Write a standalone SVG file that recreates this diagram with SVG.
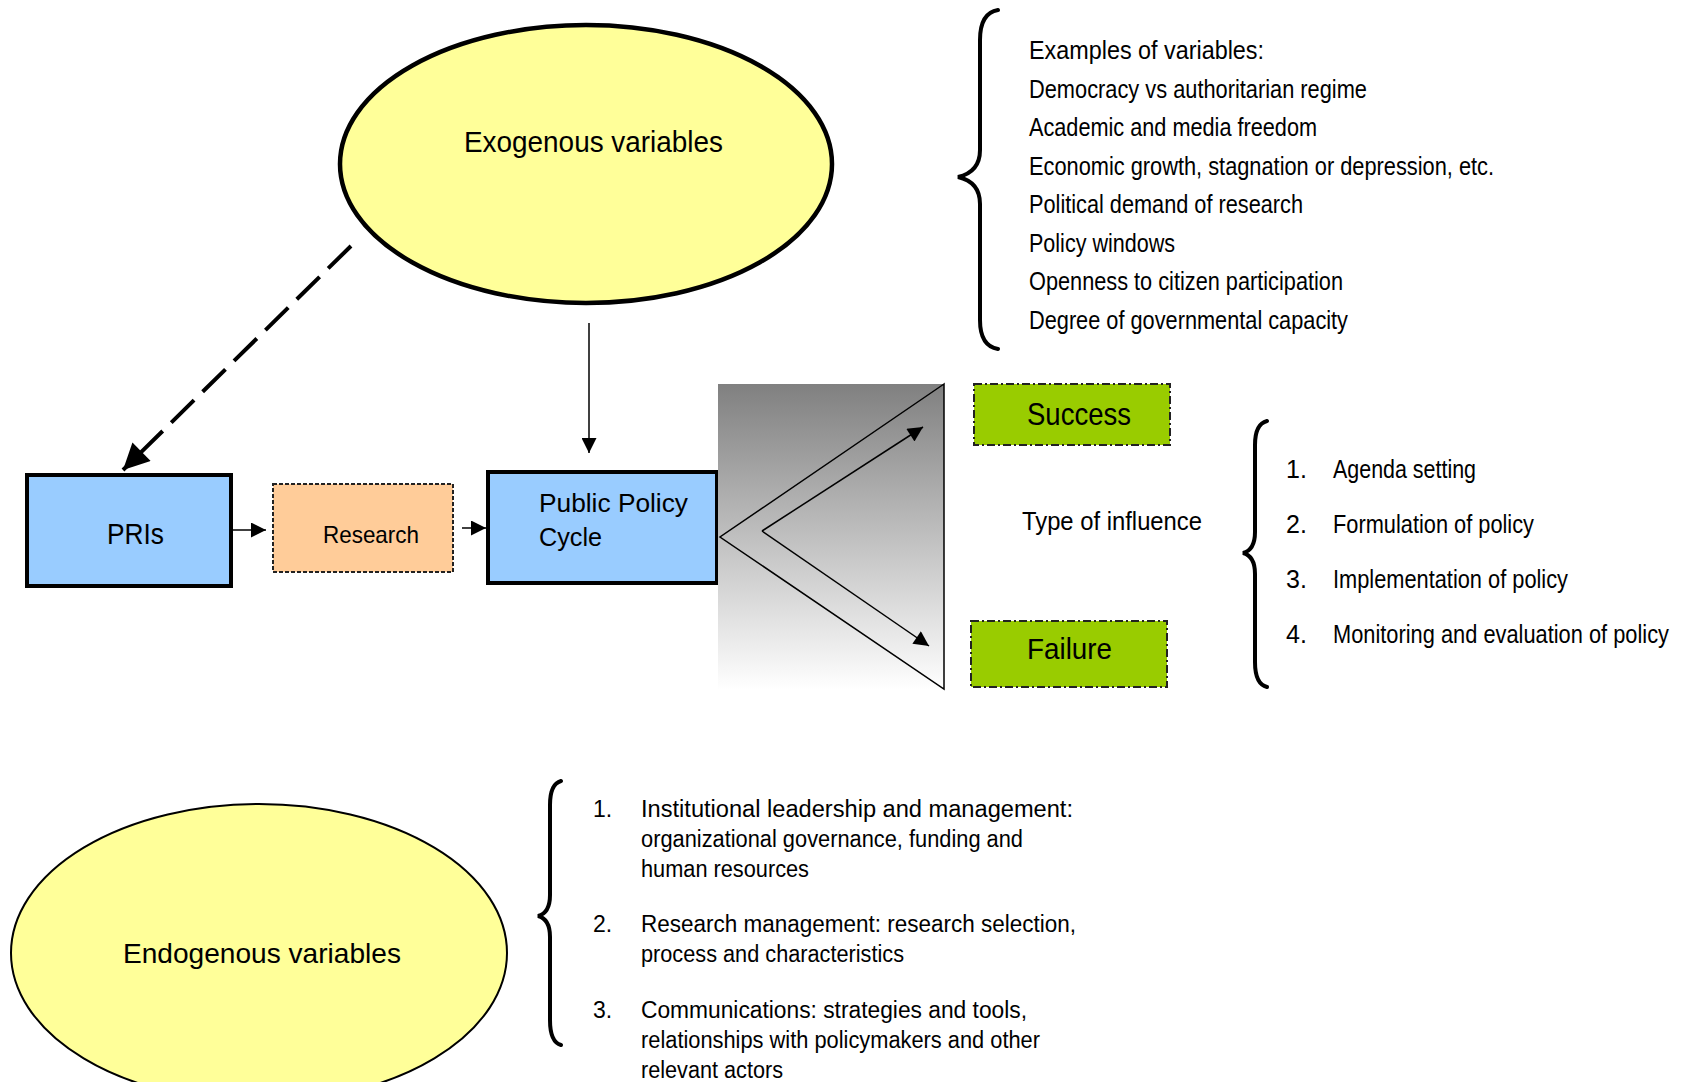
<svg xmlns="http://www.w3.org/2000/svg" width="1686" height="1082" viewBox="0 0 1686 1082">
<defs>
<style>
text{font-family:"Liberation Sans",Arial,sans-serif;fill:#000}
.ex{font-size:25.5px}
.ti{font-size:25px}
.en{font-size:23px}
.ell{fill:#FFFF99;stroke:#000}
.box{fill:#99CCFF;stroke:#000;stroke-width:4}
.grn{fill:#99CC00;stroke:#222;stroke-width:2;stroke-dasharray:8 3 2 3}
.brace{fill:none;stroke:#000;stroke-width:4;stroke-linecap:round}
.thin{fill:none;stroke:#000;stroke-width:1.5}
</style>
<linearGradient id="gr" x1="0" y1="0" x2="0" y2="1">
<stop offset="0" stop-color="#808080"/>
<stop offset="1" stop-color="#ffffff"/>
</linearGradient>
<marker id="ahs" viewBox="0 0 10 10" refX="10" refY="5" markerWidth="15" markerHeight="15" orient="auto" markerUnits="userSpaceOnUse">
<path d="M0,0 L10,5 L0,10 z" fill="#000"/>
</marker>
<marker id="ahm" viewBox="0 0 10 10" refX="10" refY="5" markerWidth="17" markerHeight="15" orient="auto" markerUnits="userSpaceOnUse">
<path d="M0,0 L10,5 L0,10 z" fill="#000"/>
</marker>
<marker id="ahb" viewBox="0 0 10 10" refX="10" refY="5" markerWidth="27" markerHeight="26" orient="auto" markerUnits="userSpaceOnUse">
<path d="M0,0 L10,5 L0,10 z" fill="#000"/>
</marker>
</defs>

<g id="exogenous">
<ellipse class="ell" cx="586" cy="164" rx="246" ry="139" stroke-width="4.5"/>
<text x="464" y="152" font-size="30" textLength="259" lengthAdjust="spacingAndGlyphs">Exogenous variables</text>
</g>

<g id="examples">
<path class="brace" d="M998,10 Q980,13 980,40 L980,150 Q980,172 958,177 Q980,182 980,204 L980,320 Q980,346 998,349"/>
<text class="ex" x="1029" y="59" textLength="235" lengthAdjust="spacingAndGlyphs">Examples of variables:</text>
<text class="ex" x="1029" y="98" textLength="338" lengthAdjust="spacingAndGlyphs">Democracy vs authoritarian regime</text>
<text class="ex" x="1029" y="136" textLength="288" lengthAdjust="spacingAndGlyphs">Academic and media freedom</text>
<text class="ex" x="1029" y="175" textLength="465" lengthAdjust="spacingAndGlyphs">Economic growth, stagnation or depression, etc.</text>
<text class="ex" x="1029" y="213" textLength="274" lengthAdjust="spacingAndGlyphs">Political demand of research</text>
<text class="ex" x="1029" y="252" textLength="146" lengthAdjust="spacingAndGlyphs">Policy windows</text>
<text class="ex" x="1029" y="290" textLength="314" lengthAdjust="spacingAndGlyphs">Openness to citizen participation</text>
<text class="ex" x="1029" y="329" textLength="319" lengthAdjust="spacingAndGlyphs">Degree of governmental capacity</text>
</g>

<g id="pris">
<rect class="box" x="27" y="475" width="204" height="111"/>
<text x="107" y="544" font-size="29" textLength="57" lengthAdjust="spacingAndGlyphs">PRIs</text>
</g>

<g id="research">
<rect x="273" y="484" width="180" height="88" fill="#FFCC99" stroke="#222" stroke-width="2" stroke-dasharray="4 2"/>
<text x="323" y="543" font-size="24" textLength="96" lengthAdjust="spacingAndGlyphs">Research</text>
</g>

<g id="policy-cycle">
<rect class="box" x="488" y="472" width="229" height="111"/>
<text x="539" y="512" font-size="26.5" textLength="149" lengthAdjust="spacingAndGlyphs">Public Policy</text>
<text x="539" y="546" font-size="26.5" textLength="63" lengthAdjust="spacingAndGlyphs">Cycle</text>
</g>

<g id="influence">
<rect x="718" y="384" width="226" height="306" fill="url(#gr)"/>
<path class="thin" d="M944,384 L720,537 L944,689 Z"/>
</g>

<g id="success">
<rect class="grn" x="974" y="384" width="196" height="61"/>
<text x="1027" y="425" font-size="30.5" textLength="104" lengthAdjust="spacingAndGlyphs">Success</text>
</g>

<g id="failure">
<rect class="grn" x="971" y="621" width="196" height="66"/>
<text x="1027" y="659" font-size="29.5" textLength="85" lengthAdjust="spacingAndGlyphs">Failure</text>
</g>

<g id="type-of-influence">
<text x="1022" y="530" font-size="25.5" textLength="180" lengthAdjust="spacingAndGlyphs">Type of influence</text>
<path class="brace" d="M1267,421 Q1255,424 1255,445 L1255,532 Q1255,550 1243,553 Q1255,556 1255,574 L1255,662 Q1255,684 1267,687"/>
<text class="ti" x="1286" y="478">1.</text>
<text class="ti" x="1333" y="478" textLength="143" lengthAdjust="spacingAndGlyphs">Agenda setting</text>
<text class="ti" x="1286" y="533">2.</text>
<text class="ti" x="1333" y="533" textLength="201" lengthAdjust="spacingAndGlyphs">Formulation of policy</text>
<text class="ti" x="1286" y="588">3.</text>
<text class="ti" x="1333" y="588" textLength="235" lengthAdjust="spacingAndGlyphs">Implementation of policy</text>
<text class="ti" x="1286" y="643">4.</text>
<text class="ti" transform="translate(1333 643) scale(0.874 1)" x="0" y="0" textLength="384.4" lengthAdjust="spacingAndGlyphs">Monitoring and evaluation of policy</text>
</g>

<g id="endogenous">
<ellipse class="ell" cx="259" cy="953" rx="248" ry="149" stroke-width="2"/>
<text x="123" y="963" font-size="28.5" textLength="278" lengthAdjust="spacingAndGlyphs">Endogenous variables</text>
</g>

<g id="endogenous-list">
<path class="brace" d="M561,781 Q550,784 550,805 L550,895 Q550,913 538,916 Q550,919 550,937 L550,1020 Q550,1042 561,1045"/>
<text class="en" x="593" y="817">1.</text>
<text class="en" x="641" y="817" textLength="432" lengthAdjust="spacingAndGlyphs">Institutional leadership and management:</text>
<text class="en" x="641" y="847" textLength="382" lengthAdjust="spacingAndGlyphs">organizational governance, funding and</text>
<text class="en" x="641" y="877" textLength="168" lengthAdjust="spacingAndGlyphs">human resources</text>
<text class="en" x="593" y="932">2.</text>
<text class="en" x="641" y="932" textLength="435" lengthAdjust="spacingAndGlyphs">Research management: research selection,</text>
<text class="en" x="641" y="962" textLength="263" lengthAdjust="spacingAndGlyphs">process and characteristics</text>
<text class="en" x="593" y="1018">3.</text>
<text class="en" x="641" y="1018" textLength="386" lengthAdjust="spacingAndGlyphs">Communications: strategies and tools,</text>
<text class="en" x="641" y="1048" textLength="399" lengthAdjust="spacingAndGlyphs">relationships with policymakers and other</text>
<text class="en" x="641" y="1078" textLength="142" lengthAdjust="spacingAndGlyphs">relevant actors</text>
</g>

<g id="connectors">
<line x1="351" y1="246" x2="123" y2="470" stroke="#000" stroke-width="4" stroke-dasharray="32 12" marker-end="url(#ahb)"/>
<line x1="589" y1="323" x2="589" y2="453" stroke="#000" stroke-width="1.5" marker-end="url(#ahs)"/>
<line x1="233" y1="530" x2="266" y2="530" stroke="#000" stroke-width="1.5" marker-end="url(#ahs)"/>
<line x1="462" y1="528" x2="486" y2="528" stroke="#000" stroke-width="1.5" marker-end="url(#ahs)"/>
<path class="thin" d="M762,531 L923,427" marker-end="url(#ahm)"/>
<path class="thin" d="M762,531 L929,646" marker-end="url(#ahm)"/>
</g>
</svg>
